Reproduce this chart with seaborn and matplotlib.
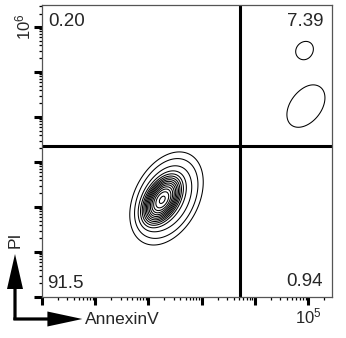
import numpy as np
import matplotlib
matplotlib.use("Agg")
import matplotlib.pyplot as plt
from matplotlib.patches import FancyArrow
from matplotlib.ticker import NullFormatter
import seaborn as sns

# Cell populations on log10(AnnexinV) / log10(PI): centre, spread, correlation, peak height
pop_u = [2.26, 2.34, 4.92, 4.96]
pop_v = [2.16, 2.19, 5.53, 4.24]
pop_su = [0.135, 0.46, 0.253, 0.535]
pop_sv = [0.20, 0.69, 0.283, 0.70]
pop_rho = [0.45, 0.35, 0.2, 0.4]
pop_peak = [1.8, 0.08, 0.027, 0.0325]

# Quadrant gate (AnnexinV, PI) and quadrant percentages
gate_x = 5250
gate_y = 2290
quad_text = ["0.20", "7.39", "91.5", "0.94"]

x_decades = [0, 1, 2, 3, 4, 5]
y_decades = [0, 1, 2, 3, 4, 5, 6]

sns.set_theme(style="ticks")
plt.rcParams["font.family"] = ["Liberation Sans", "DejaVu Sans"]
plt.rcParams["mathtext.fontset"] = "custom"
plt.rcParams["mathtext.rm"] = "Liberation Sans"
plt.rcParams["mathtext.it"] = "Liberation Sans"

W, H = 346, 338
fig = plt.figure(figsize=(W / 100, H / 100), dpi=100)
fig.patch.set_facecolor("white")
ax = fig.add_axes([42 / W, 1 - 297 / H, 290 / W, 292 / H])

umax, vmax = 5.45, 6.49
U, V = np.meshgrid(np.linspace(0, umax, 700), np.linspace(0, vmax, 700))
Z = np.zeros_like(U)
for u0, v0, su, sv, rho, h in zip(pop_u, pop_v, pop_su, pop_sv, pop_rho, pop_peak):
    a = (U - u0) / su
    b = (V - v0) / sv
    m2 = (a * a - 2 * rho * a * b + b * b) / (1 - rho ** 2)
    Z += h * np.exp(-0.5 * m2)

levels = 0.026 * 1.35 ** np.arange(18)
ax.contour(10 ** U, 10 ** V, Z, levels=levels, colors="black", linewidths=0.75)

ax.axvline(gate_x, color="black", lw=2.2)
ax.axhline(gate_y, color="black", lw=2.2)

ax.set_xscale("log")
ax.set_yscale("log")
ax.set_xlim(1, 10 ** umax)
ax.set_ylim(1, 10 ** vmax)

ax.set_xticks([10.0 ** k for k in x_decades])
ax.set_xticklabels(["" for _ in x_decades[:-1]] + [r"$10^{5}$"], fontsize=12)
ax.set_yticks([10.0 ** k for k in y_decades])
ax.set_yticklabels(["" for _ in y_decades[:-1]] + [r"$10^{6}$"], fontsize=12,
                   rotation=90, va="center")
ax.set_xticks([m * 10.0 ** k for k in x_decades for m in range(2, 10) if m * 10.0 ** k < 10 ** umax], minor=True)
ax.set_yticks([m * 10.0 ** k for k in y_decades for m in range(2, 10) if m * 10.0 ** k < 10 ** vmax], minor=True)
ax.xaxis.set_minor_formatter(NullFormatter())
ax.yaxis.set_minor_formatter(NullFormatter())
ax.tick_params(which="major", direction="out", length=5.5, width=2.2, color="black", pad=1)
ax.tick_params(which="minor", direction="out", length=2.5, width=0.9, color="black")
for s in ax.spines.values():
    s.set_color("#555555")
    s.set_linewidth(0.9)

# Overlay in pixel units for the quadrant numbers, axis labels and arrows
ov = fig.add_axes([0, 0, 1, 1], zorder=5)
ov.set_xlim(0, W)
ov.set_ylim(H, 0)
ov.axis("off")
ov.patch.set_alpha(0)

fs = 13.5
ov.text(48, 22, quad_text[0], ha="left", va="center", fontsize=fs)
ov.text(323, 21, quad_text[1], ha="right", va="center", fontsize=fs)
ov.text(47, 283.5, quad_text[2], ha="left", va="center", fontsize=fs)
ov.text(323, 281, quad_text[3], ha="right", va="center", fontsize=fs)

ov.add_patch(FancyArrow(15, 320, 0, -66, width=3.2, head_width=16, head_length=35,
                        length_includes_head=True, color="black", lw=0))
ov.add_patch(FancyArrow(13.4, 319, 69, 0, width=3.2, head_width=15, head_length=35,
                        length_includes_head=True, color="black", lw=0))
ov.text(15, 240, "PI", rotation=90, ha="center", va="center", fontsize=12.5)
ov.text(85, 320, "AnnexinV", ha="left", va="center", fontsize=12.5)

fig.savefig("out.png", dpi=100)
